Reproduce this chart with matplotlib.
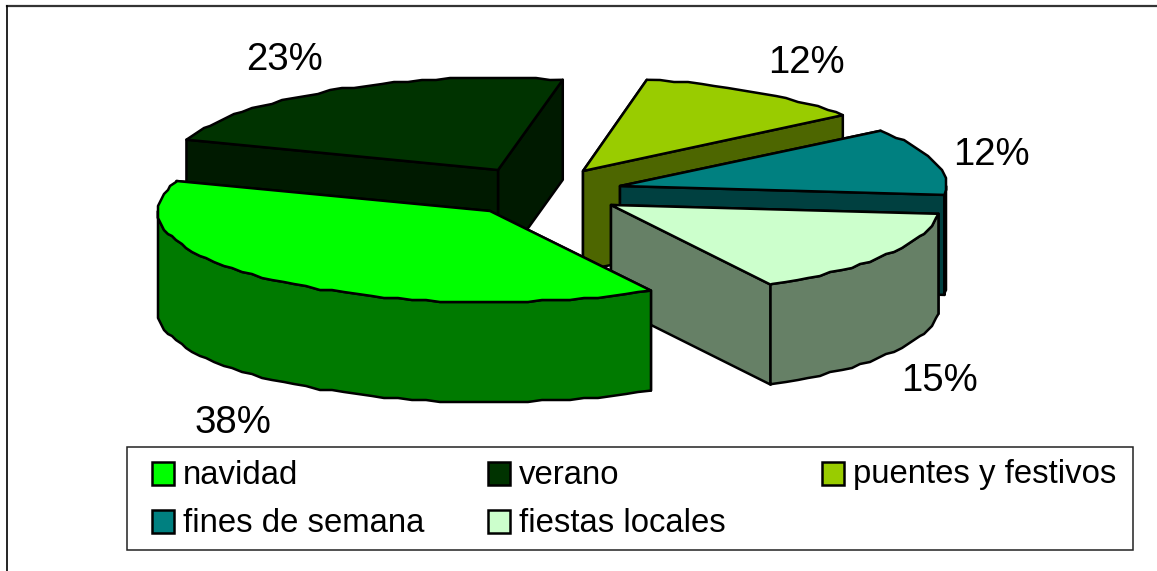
import numpy as np
import matplotlib
matplotlib.use("Agg")
import matplotlib.pyplot as plt
from matplotlib.patches import Polygon, Rectangle

# data
categories = ["navidad", "verano", "puentes y festivos", "fines de semana", "fiestas locales"]
shares = [38.4, 22.8, 11.6, 11.8, 15.4]

# colours
top_colors = ["#00FF00", "#003300", "#99CC00", "#008080", "#CCFFCC"]
side_colors = ["#007A00", "#001A00", "#4D6600", "#004040", "#668066"]

# layout, in pixels
apexes = [(490, 211), (498, 170), (583, 171), (620, 186), (611, 205)]
radii_x = [332, 330, 325, 326, 329]
radii_y = [91, 92, 93, 92, 91]
label_pos = [(233, 423), (285, 60), (806, 63), (991, 155), (940, 381)]
legend_pos = [(152, 473), (488, 473), (822, 473), (152, 521), (488, 521)]
draw_order = [1, 2, 3, 4, 0]
depth = 100
start_angle = 61
lw = 1.8
step = 2  # the old renderer leaves the arcs stepped, about this many pixels

plt.rcParams["font.family"] = ["Liberation Sans", "DejaVu Sans"]

fig = plt.figure(figsize=(11.57, 5.71), dpi=100)
ax = fig.add_axes([0, 0, 1, 1])
ax.set_xlim(0, 1157)
ax.set_ylim(571, 0)
ax.axis("off")


def rim(i, t):
    t = np.radians(t)
    return apexes[i][0] + radii_x[i] * np.cos(t), apexes[i][1] + radii_y[i] * np.sin(t)


def arc(i, t0, t1):
    xs, ys = rim(i, np.arange(t0, t1, 2.5))
    end_x, end_y = rim(i, t1)
    xs = np.r_[np.round(xs / step) * step, end_x]
    ys = np.r_[np.round(ys / step) * step, end_y]
    xs[0], ys[0] = rim(i, t0)
    return xs, ys


def add_poly(xs, ys, color, z):
    ax.add_patch(Polygon(np.column_stack([xs, ys]), closed=True, facecolor=color,
                         edgecolor="black", linewidth=lw, joinstyle="round", zorder=z))


def draw_slice(i, t0, t1, z):
    cx, cy = apexes[i]
    # flat cut faces, the one further back goes first
    for t in sorted([t0, t1], key=lambda t: rim(i, t)[1]):
        x, y = rim(i, t)
        add_poly([cx, x, x, cx], [cy, y, y + depth, cy + depth], side_colors[i], z)
    # outer wall, only the part that faces the viewer
    for lo, hi in [(t0, min(t1, 180)), (max(t0, 360), min(t1, 540))]:
        if hi > lo:
            xs, ys = arc(i, lo, hi)
            add_poly(np.r_[xs, xs[::-1]], np.r_[ys, ys[::-1] + depth], side_colors[i], z)
    # top
    xs, ys = arc(i, t0, t1)
    add_poly(np.r_[cx, xs], np.r_[cy, ys], top_colors[i], z)


angles = start_angle + np.r_[0, np.cumsum(shares)] * 3.6
for z, i in enumerate(draw_order):
    draw_slice(i, angles[i], angles[i + 1], z + 1)

for i, v in enumerate(shares):
    ax.text(label_pos[i][0], label_pos[i][1], "%d%%" % round(v), fontsize=27.6,
            ha="center", va="center", color="black", zorder=10)

# outer frame, only top and left show
ax.plot([7, 1157], [6, 6], color="#333333", linewidth=1.6, zorder=0)
ax.plot([7, 7], [6, 571], color="black", linewidth=1.2, zorder=0)

# legend
ax.add_patch(Rectangle((127, 447), 1006, 103, facecolor="white", edgecolor="#222222",
                       linewidth=1.1, zorder=10))
for i, name in enumerate(categories):
    x, y = legend_pos[i]
    ax.add_patch(Rectangle((x, y - 11.5), 22, 23, facecolor=top_colors[i], edgecolor="black",
                           linewidth=1.8, zorder=11))
    ax.text(x + 31, y + 2, name, fontsize=23.7, ha="left", va="center", color="black", zorder=11)

fig.savefig("out.png", dpi=100)
